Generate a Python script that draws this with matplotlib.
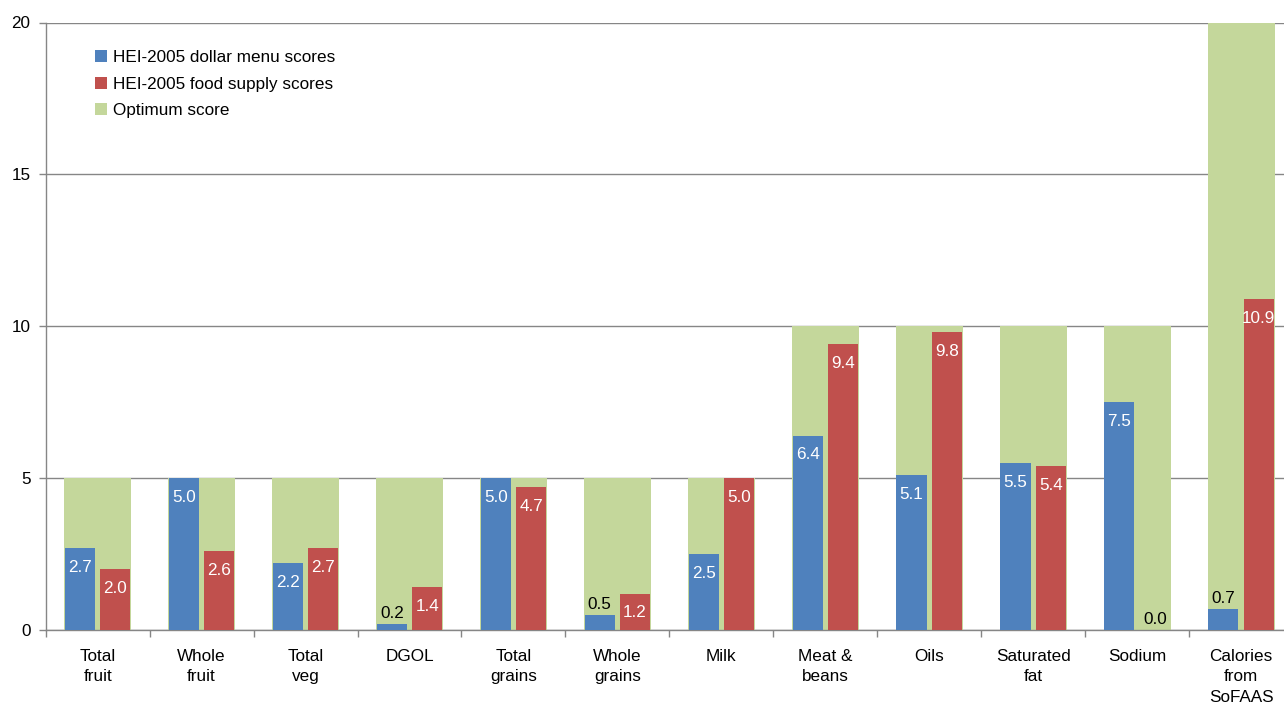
import matplotlib
matplotlib.use("Agg")
import matplotlib.pyplot as plt
import numpy as np

categories = ["Total\nfruit", "Whole\nfruit", "Total\nveg", "DGOL", "Total\ngrains",
              "Whole\ngrains", "Milk", "Meat &\nbeans", "Oils", "Saturated\nfat",
              "Sodium", "Calories\nfrom\nSoFAAS"]
dollar_menu = [2.7, 5.0, 2.2, 0.2, 5.0, 0.5, 2.5, 6.4, 5.1, 5.5, 7.5, 0.7]
food_supply = [2.0, 2.6, 2.7, 1.4, 4.7, 1.2, 5.0, 9.4, 9.8, 5.4, 0.0, 10.9]
optimum = [5, 5, 5, 5, 5, 5, 5, 10, 10, 10, 10, 20]
series_names = ["HEI-2005 dollar menu scores", "HEI-2005 food supply scores", "Optimum score"]

BLUE = "#4F81BD"
RED = "#C0504D"
GREEN = "#C4D79B"
GRID = "#868686"

plt.rcParams["font.family"] = ["Liberation Sans", "DejaVu Sans"]
fig = plt.figure(figsize=(12.84, 7.17), dpi=100)
W, H = 1284, 717
left, right = 45.7, 1293.0
bottom, top = 630.0, 22.5
ax = fig.add_axes([left / W, 1 - bottom / H, (right - left) / W, (bottom - top) / H])

x = np.arange(len(categories))
ax.bar(x, optimum, width=0.645, color=GREEN, linewidth=0, zorder=2, label=series_names[2])
b1 = ax.bar(x - 0.17, dollar_menu, width=0.29, color=BLUE, linewidth=0, zorder=3, label=series_names[0])
b2 = ax.bar(x + 0.17, food_supply, width=0.29, color=RED, linewidth=0, zorder=3, label=series_names[1])

fs = 12.3
for bars, vals in ((b1, dollar_menu), (b2, food_supply)):
    for rect, v in zip(bars, vals):
        cx = rect.get_x() + rect.get_width() / 2
        if v >= 1.0:
            ax.annotate(f"{v:.1f}", (cx, v), xytext=(0, -8.5), textcoords="offset points",
                        ha="center", va="top", color="white", fontsize=fs, zorder=4)
        else:
            ax.annotate(f"{v:.1f}", (cx, v), xytext=(0, 2), textcoords="offset points",
                        ha="center", va="bottom", color="black", fontsize=fs, zorder=4)

ax.set_xlim(-0.5, len(categories) - 0.5)
ax.set_ylim(0, 20)
ax.set_yticks([0, 5, 10, 15, 20])
ax.yaxis.grid(True, color=GRID, linewidth=1.0, zorder=1)
ax.set_axisbelow(True)
ax.set_xticks(x)
ax.set_xticklabels(categories, fontsize=fs, linespacing=1.42)
ax.set_xticks(np.arange(-0.5, len(categories), 1.0), minor=True)
ax.tick_params(axis="x", which="major", length=0, pad=14)
ax.tick_params(axis="x", which="minor", length=5, color=GRID, width=1)
ax.tick_params(axis="y", length=5, color=GRID, width=1, labelsize=fs, pad=6)
for s in ("top", "right"):
    ax.spines[s].set_visible(False)
for s in ("left", "bottom"):
    ax.spines[s].set_color(GRID)
    ax.spines[s].set_linewidth(1.0)

handles = [b1, b2, ax.containers[0]]
leg = ax.legend(handles, series_names, loc="upper left",
                bbox_to_anchor=(95 / W, 1 - 50 / H), bbox_transform=fig.transFigure,
                frameon=False, fontsize=fs, handlelength=0.7, handleheight=0.7,
                handletextpad=0.35, labelspacing=0.68, borderaxespad=0, borderpad=0)

fig.savefig("out.png", dpi=100)
